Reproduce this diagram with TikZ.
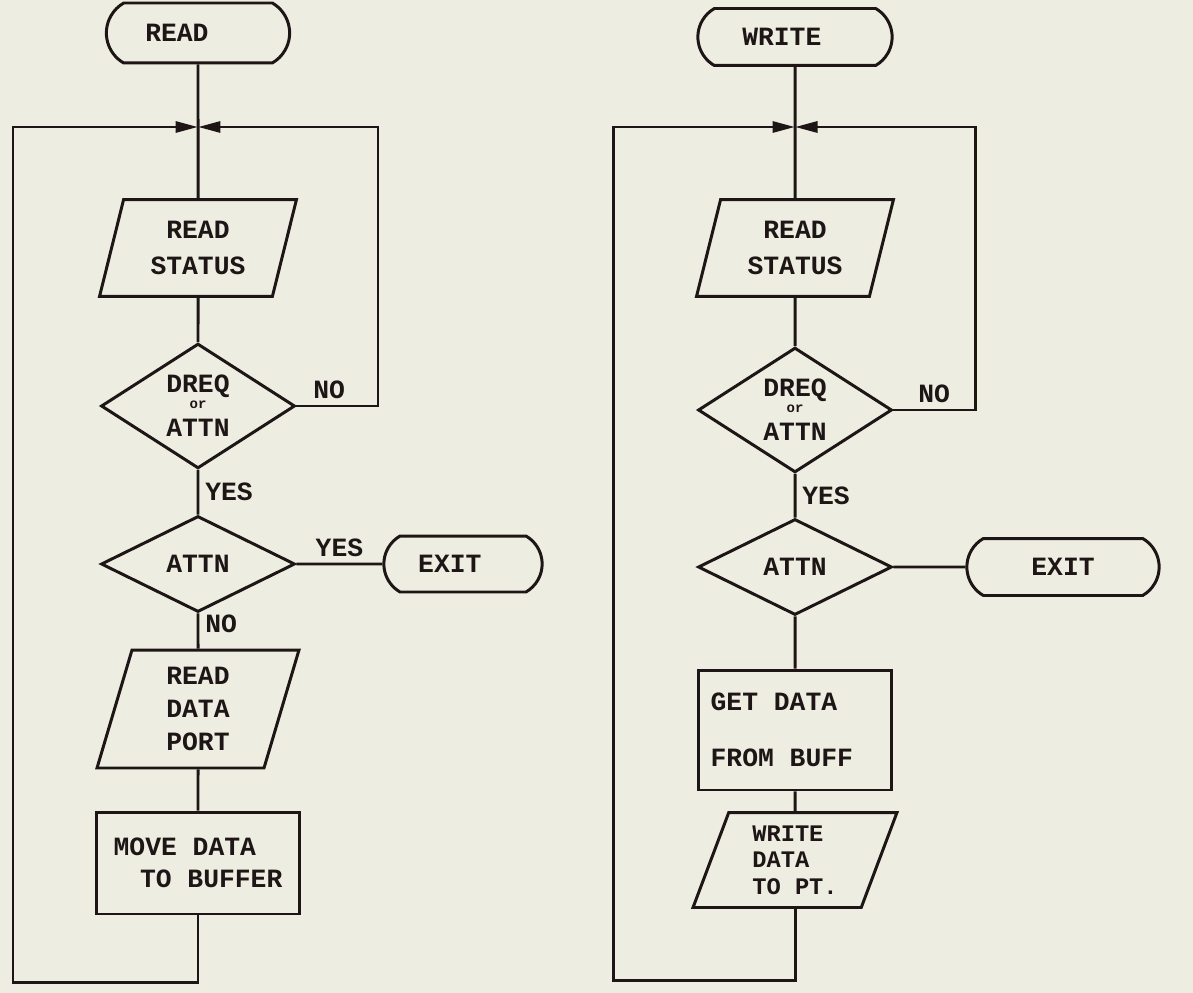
\documentclass[tikz,border=0pt]{standalone}
\usepackage{fontspec}
\setmonofont{Liberation Mono}
\usepackage{tikz}
\usetikzlibrary{arrows.meta,shapes.geometric,shapes.misc}
\definecolor{paper}{RGB}{238,237,225}
\definecolor{ink}{RGB}{30,22,22}

\begin{document}
\begin{tikzpicture}[
  x=0.02cm, y=-0.02cm,
  every node/.append style={font={\ttfamily\bfseries\fontsize{15}{17}\selectfont}, text=ink},
  wire/.style={draw=ink, line width=1.7pt},
  term/.style={rounded rectangle, rounded rectangle arc length=120, wire, minimum width=3.9cm, minimum height=1.2cm},
  io/.style={trapezium, trapezium left angle=70, trapezium right angle=110, trapezium stretches body, wire, minimum width=3.94cm, minimum height=1.94cm, align=center},
  proc/.style={rectangle, wire, align=left},
  test/.style={diamond, wire, minimum width=3.88cm, minimum height=1.92cm, inner sep=0pt, align=center},
  orlbl/.style={font={\ttfamily\bfseries\fontsize{8}{8}\selectfont}, inner sep=0pt, yshift=0.5pt},
  arr/.style={wire, -{Triangle[length=4.5mm, width=2.2mm]}},
]
  \fill[paper] (0,0) rectangle (1193,993);

  % READ
  \node[term] (read) at (198,33) {READ\hspace*{1.6em}};
  \node[io] (rstat) at (198,248) {READ\\[4pt]STATUS};
  \node[test, label={[orlbl]center:or}] (dreq) at (198,406) {DREQ\\[8pt]ATTN};
  \node[test] (attn) at (198,564) {ATTN};
  \node[term, minimum width=3.4cm, minimum height=1.12cm] (exit) at (463,564) {EXIT\hspace*{1em}};
  \node[io, minimum width=4.04cm, minimum height=2.36cm] (rport) at (198,709) {READ\\[2pt]DATA\\[2pt]PORT};
  \node[proc, minimum width=4.06cm, minimum height=2.04cm] (move) at (198,863) {MOVE DATA\\[1pt]\hspace*{1em}TO BUFFER};

  \coordinate (ljoin) at (198,127);
  \coordinate (lright) at (378,127);
  \coordinate (lcorner) at (13,982);

  \draw[wire] (read.south) -- (rstat.north)
    (rstat.south) -- (dreq.north)
    (dreq.south) -- node[right]{YES} (attn.north)
    (attn.south) -- node[pos=0.3, right]{NO} (rport.north)
    (rport.south) -- (move.north)
    (attn.east) -- node[above]{YES} (exit.west);
  \draw[arr] (dreq.east) -- node[above, pos=0.4]{NO} (dreq.east -| lright) -- (lright) -- (ljoin);
  \draw[arr] (move.south) |- (lcorner) |- (ljoin);

  % WRITE
  \node[term, minimum width=4.12cm, minimum height=1.14cm] (write) at (795,37) {WRITE\hspace*{1em}};
  \node[io] (wstat) at (795,248) {READ\\[4pt]STATUS};
  \node[test, label={[orlbl]center:or}] (dreq2) at (795,410) {DREQ\\[8pt]ATTN};
  \node[test] (attn2) at (795,567) {ATTN};
  \node[term, minimum width=4.08cm, minimum height=1.14cm] (exit2) at (1063,567) {EXIT};
  \node[proc, minimum width=3.86cm, minimum height=2.4cm] (getd) at (795,730) {GET DATA\\[15pt]FROM BUFF\hspace*{1em}};
  \node[io, minimum width=4.08cm, minimum height=1.9cm, trapezium left angle=66, trapezium right angle=114, align=left, font={\ttfamily\bfseries\fontsize{13.5}{15}\selectfont}] (wdata) at (795,860) {WRITE\\DATA\\TO PT.};

  \coordinate (wjoin) at (795,127);
  \coordinate (wright) at (975,127);
  \coordinate (wcorner) at (613,980);

  \draw[wire] (write.south) -- (wstat.north)
    (wstat.south) -- (dreq2.north)
    (dreq2.south) -- node[right]{YES} (attn2.north)
    (attn2.south) -- (getd.north)
    (getd.south) -- (wdata.north)
    (attn2.east) -- (exit2.west);
  \draw[arr] (dreq2.east) -- node[above]{NO} (dreq2.east -| wright) -- (wright) -- (wjoin);
  \draw[arr] (wdata.south) |- (wcorner) |- (wjoin);
\end{tikzpicture}
\end{document}
